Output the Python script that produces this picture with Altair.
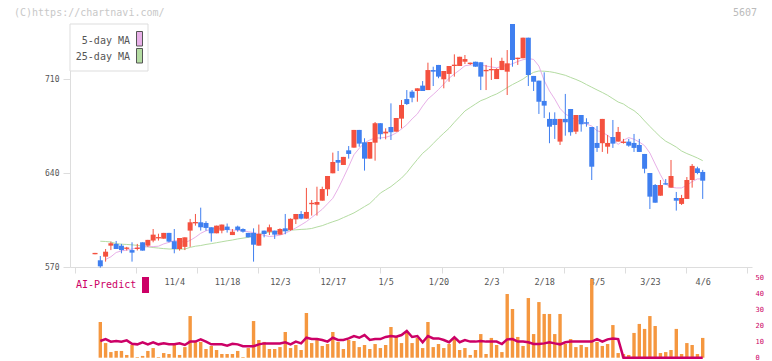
import altair as alt
import pandas as pd

# ---------------- data ----------------
label_idx = [15, 25, 35, 45, 55, 65, 75, 85, 95, 105, 115]
date_labels = ["11/4", "11/18", "12/3", "12/17", "1/5", "1/20", "2/3", "2/18", "3/5", "3/23", "4/6"]

opens = [579.5, 575.0, 577.7, 585.9, 587.2, 585.9, 583.5, 582.6, 583.4, 588.4,
         585.9, 589.7, 591.3, 591.1, 595.4, 589.2, 583.4, 585.0, 597.1, 602.5,
         603.3, 602.8, 599.6, 595.1, 597.1, 600.1, 593.8, 600.1, 598.3, 595.4,
         595.4, 585.9, 597.1, 596.2, 597.1, 594.1, 598.8, 597.6, 605.5, 609.5,
         606.0, 616.8, 616.4, 619.4, 627.9, 639.8, 649.7, 646.0, 656.9, 658.9,
         672.1, 662.9, 650.7, 662.6, 677.1, 669.5, 674.3, 670.8, 680.5, 695.1,
         700.6, 701.1, 705.1, 701.8, 716.7, 720.5, 709.8, 713.8, 719.7, 719.7,
         722.9, 721.2, 722.9, 722.5, 715.8, 716.5, 710.0, 716.7, 715.5, 751.0,
         724.9, 725.5, 740.8, 712.3, 708.8, 693.7, 680.3, 680.3, 663.4, 680.3,
         687.7, 670.8, 683.2, 677.8, 674.3, 662.4, 662.2, 659.6, 666.8, 663.4,
         662.4, 663.4, 662.4, 660.9, 654.2, 640.0, 631.1, 623.1, 632.4, 629.1,
         621.4, 617.0, 620.7, 634.8, 643.5, 640.8]
highs = [580.5, 578.2, 583.4, 588.9, 589.4, 587.2, 585.0, 588.4, 587.2, 588.4,
         590.2, 598.3, 594.8, 595.4, 595.4, 598.3, 591.6, 592.1, 605.8, 609.5,
         614.2, 604.1, 599.6, 600.8, 601.6, 602.4, 598.3, 600.8, 598.8, 595.4,
         598.8, 601.6, 597.1, 601.6, 597.1, 598.8, 609.5, 606.2, 609.5, 611.7,
         628.9, 619.9, 629.8, 629.8, 637.8, 655.2, 656.4, 652.0, 660.1, 672.1,
         672.1, 665.9, 663.1, 678.0, 677.1, 673.3, 691.9, 681.0, 694.4, 701.8,
         701.8, 703.1, 708.5, 722.2, 719.2, 720.5, 716.0, 719.7, 728.4, 726.6,
         727.9, 722.2, 722.9, 722.5, 720.5, 725.9, 718.0, 725.9, 731.6, 751.0,
         725.9, 740.8, 740.8, 712.3, 708.8, 715.0, 685.2, 685.2, 680.3, 698.9,
         687.7, 683.2, 683.2, 680.8, 674.3, 675.0, 680.3, 668.3, 679.5, 674.3,
         665.4, 665.4, 669.1, 665.4, 654.2, 640.0, 631.8, 634.8, 635.5, 649.7,
         625.9, 623.7, 637.0, 646.7, 644.7, 642.3]
lows = [579.5, 569.5, 574.0, 582.6, 583.4, 580.2, 582.3, 574.0, 582.3, 582.2,
        585.0, 588.4, 589.7, 591.1, 588.4, 580.2, 582.2, 582.6, 585.0, 600.8,
        597.1, 597.1, 588.9, 595.1, 595.1, 595.6, 593.8, 596.3, 595.6, 592.1,
        574.0, 585.9, 592.1, 593.8, 590.9, 594.1, 594.4, 597.0, 602.0, 605.5,
        606.0, 608.3, 608.3, 619.4, 623.0, 639.8, 641.5, 646.0, 650.7, 658.9,
        659.6, 641.8, 650.7, 649.2, 665.1, 665.1, 664.6, 670.8, 673.3, 690.7,
        692.7, 693.1, 701.1, 701.8, 704.8, 710.6, 703.1, 708.0, 711.8, 719.7,
        721.2, 720.5, 719.2, 701.8, 701.8, 709.3, 710.0, 716.7, 698.1, 719.2,
        720.5, 725.5, 704.8, 701.1, 684.0, 681.0, 662.2, 665.4, 660.9, 667.8,
        667.8, 669.0, 670.8, 674.5, 634.8, 655.7, 655.7, 654.4, 658.7, 663.4,
        661.9, 659.6, 655.7, 655.7, 639.8, 613.2, 617.9, 623.1, 631.4, 629.1,
        612.0, 616.2, 620.7, 629.1, 639.1, 620.7]
closes = [580.5, 570.5, 581.4, 587.7, 583.4, 582.6, 584.5, 580.7, 584.4, 582.2,
          590.2, 594.1, 592.3, 595.4, 588.9, 583.4, 591.6, 592.1, 603.3, 603.5,
          599.6, 599.1, 595.1, 600.8, 601.6, 597.6, 596.3, 597.6, 596.3, 592.1,
          586.6, 594.6, 594.6, 599.6, 594.1, 598.3, 596.6, 605.9, 609.5, 606.0,
          611.0, 617.8, 618.4, 628.1, 637.8, 648.2, 647.7, 652.0, 654.2, 672.1,
          661.9, 650.7, 663.1, 677.1, 668.9, 670.8, 670.4, 681.0, 690.7, 691.4,
          696.1, 703.1, 701.1, 716.7, 715.5, 711.8, 716.0, 719.7, 720.7, 726.6,
          724.9, 722.2, 719.2, 711.8, 716.8, 717.5, 717.5, 723.5, 721.7, 724.2,
          725.9, 740.8, 713.0, 708.0, 693.1, 690.2, 674.5, 675.8, 680.3, 677.8,
          670.4, 683.2, 676.3, 676.8, 644.7, 658.7, 680.3, 662.4, 661.9, 670.6,
          663.4, 660.4, 658.7, 655.7, 643.2, 622.4, 617.9, 631.1, 631.4, 637.8,
          619.4, 621.4, 634.8, 645.3, 640.0, 634.3]

ma5 = [None, None,
       575.6, 577.6, 580.8, 582.0, 582.6, 583.4, 584.2, 584.7, 585.2, 585.2,
       585.5, 587.2, 588.4, 589.6, 589.4, 588.2, 589.8, 592.2, 595.1, 597.0,
       598.1, 599.1, 598.4, 597.9, 597.5, 597.3, 597.0, 596.3, 595.6, 594.7,
       593.6, 592.7, 593.1, 593.7, 595.1, 597.1, 599.1, 601.4, 603.8, 606.9,
       609.9, 613.0, 617.1, 621.2, 628.3, 636.4, 644.8, 653.6, 658.4, 662.5,
       664.6, 666.1, 666.1, 666.6, 667.8, 669.9, 672.8, 676.0, 680.3, 684.0,
       689.9, 695.1, 698.5, 702.2, 706.3, 710.6, 713.8, 716.7, 719.9, 720.5,
       720.5, 720.5, 719.7, 719.0, 718.4, 719.4, 720.2, 721.4, 723.1, 724.4,
       725.3, 724.6, 719.7, 708.9, 701.1, 695.1, 688.1, 684.0, 681.7, 679.9,
       677.9, 676.5, 675.0, 671.5, 670.3, 668.1, 665.0, 661.3, 664.4, 666.4,
       665.2, 663.1, 660.4, 654.9, 646.7, 638.7, 631.7, 629.5, 628.9, 628.9,
       630.9, 633.6, 635.6, 635.6]
ma25 = [None,
        589.2, 589.0, 588.6, 587.4, 587.0, 586.8, 586.5, 586.1, 585.5, 585.0,
        584.5, 584.1, 583.7, 583.4, 583.4, 583.3, 583.4, 584.6, 585.5, 586.0,
        586.8, 587.4, 588.1, 588.8, 589.5, 590.1, 590.9, 591.5, 592.1, 593.3,
        594.7, 595.7, 595.9, 596.1, 596.8, 597.2, 597.4, 597.7, 598.0, 598.2,
        598.7, 599.8, 600.8, 602.3, 603.7, 605.0, 606.8, 608.5, 610.3, 612.6,
        615.0, 617.3, 621.1, 625.1, 627.5, 629.9, 633.0, 636.2, 640.3, 645.3,
        650.1, 654.7, 658.0, 662.0, 666.0, 669.7, 673.3, 677.8, 682.0, 686.2,
        688.8, 691.4, 693.9, 695.4, 697.3, 698.9, 701.1, 703.6, 705.9, 707.9,
        710.0, 712.8, 715.0, 716.0, 715.8, 715.5, 714.8, 713.8, 712.8, 711.2,
        709.7, 708.0, 705.9, 703.9, 701.9, 700.0, 697.9, 695.4, 692.9, 691.4,
        688.7, 686.5, 683.2, 678.8, 674.7, 670.7, 666.9, 663.7, 661.6, 659.3,
        656.4, 654.5, 652.9, 651.2, 649.2]

# bottom panel (index 1 .. 115)
vol = [22.2, 9.1, 3.5, 4.2, 4.2, 1.7, 7.9, 0.4, 1.1, 4.2,
       6.0, 0.4, 2.9, 2.3, 7.9, 1.7, 6.6, 25.9, 9.8, 9.8,
       5.4, 7.3, 4.8, 2.3, 2.3, 2.3, 4.2, 0.4, 6.0, 22.8,
       11.0, 9.8, 5.4, 5.4, 6.6, 16.0, 6.0, 7.9, 4.8, 27.8,
       9.1, 11.0, 7.3, 8.5, 16.0, 9.8, 5.4, 11.0, 10.4, 6.6,
       7.9, 5.4, 8.5, 6.0, 7.9, 19.1, 12.9, 9.1, 15.4, 9.1,
       12.3, 6.0, 22.2, 6.6, 8.5, 6.0, 8.5, 11.6, 4.8, 6.0,
       1.7, 4.8, 14.7, 2.3, 12.3, 7.9, 3.5, 39.6, 30.3, 12.9,
       7.3, 37.1, 14.7, 34.6, 27.2, 27.2, 14.7, 27.2, 8.5, 11.6,
       6.6, 7.9, 6.6, 48.9, 9.8, 7.3, 8.5, 20.3, 2.9, 2.3,
       1.7, 15.4, 21.0, 17.9, 25.9, 19.7, 2.9, 3.5, 4.8, 17.9,
       2.3, 9.1, 7.9, 2.3, 12.3]
ai = [10.4, 11.6, 10.0, 10.4, 10.0, 10.8, 8.7, 8.3, 9.6, 8.3,
      9.6, 8.3, 8.9, 8.3, 8.3, 8.9, 7.9, 10.0, 10.0, 11.4,
      10.0, 8.3, 8.3, 8.3, 7.5, 8.7, 8.3, 7.1, 7.1, 7.1,
      8.3, 8.9, 8.9, 8.9, 8.9, 9.6, 8.3, 10.0, 8.9, 12.4,
      11.6, 11.6, 11.0, 10.0, 12.4, 11.0, 11.0, 12.0, 13.5, 12.4,
      14.1, 11.0, 11.6, 11.6, 12.9, 13.5, 13.0, 14.1, 16.6, 12.9,
      13.5, 9.6, 13.5, 12.0, 12.0, 11.0, 9.6, 12.7, 9.6, 11.0,
      10.0, 10.0, 10.4, 10.0, 10.0, 10.0, 8.5, 11.4, 11.6, 10.0,
      10.0, 9.6, 8.5, 8.5, 8.9, 9.6, 8.9, 8.3, 9.6, 10.0,
      10.0, 10.0, 10.0, 10.0, 11.6, 10.0, 11.4, 12.0, 11.6, 0.0,
      0.0, 0.0, 0.0, 0.0, 0.0, 0.0, 0.0, 0.0, 0.0, 0.0,
      0.0, 0.0, 0.0, 0.0, 0.0]

price_ticks = [570, 640, 710]
ai_ticks = [0, 10, 20, 30, 40, 50]
ma_names = ["5-day MA", "25-day MA"]

# ---------------- styles ----------------
RED = "#f4513f"
BLUE = "#3f7ff0"
PINK = "#e8b0e8"
GREEN = "#b4dca2"
ORANGE = "#f5973f"
CRIMSON = "#cc0066"
MONO = "DejaVu Sans Mono"

W, H = 682, 334
PRICE_RANGE = [243, 0]
AI_RANGE = [333.7, 253.3]
X_LO, X_HI = -3.79, 123.38
grid_ticks = [X_LO + k * (X_HI - X_LO) / 11 for k in range(12)]

n = len(opens)
candles = pd.DataFrame({"idx": list(range(n)), "open": opens, "high": highs,
                        "low": lows, "close": closes})
mas = pd.DataFrame({"idx": list(range(n)), "ma5": ma5, "ma25": ma25})
bottom = pd.DataFrame({"idx": list(range(1, n)), "vol": vol, "ai": ai})

label_expr = "".join(
    f"abs(datum.value - {i}) < 0.001 ? '{lab}' : " for i, lab in zip(label_idx, date_labels)
) + "''"
label_set = "[" + ",".join(str(i) for i in label_idx) + "]"

x_axis = alt.Axis(
    values=grid_ticks + label_idx, labelExpr=label_expr,
    tickOpacity={"condition": {"test": f"indexof({label_set}, datum.value) >= 0", "value": 0}, "value": 1},
    offset=-(H - PRICE_RANGE[0]), tickSize=6, tickColor="#dddddd", domainColor="#dddddd",
    labelColor="#555555", labelFont=MONO, labelFontSize=8.5, labelPadding=4,
    labelOverlap=False, labelFlush=False, labelBound=False, grid=False, title=None,
)


def xenc():
    return alt.X("idx:Q", scale=alt.Scale(domain=[X_LO, X_HI], nice=False, zero=False), axis=x_axis)


price_scale = alt.Scale(domain=[570, 751], range=PRICE_RANGE, nice=False, zero=False)
price_axis = alt.Axis(values=price_ticks, format="d", tickSize=7, tickColor="#dddddd",
                      domainColor="#dddddd", labelColor="#555555", labelFont=MONO,
                      labelFontSize=8, labelPadding=4, grid=False, title=None)


def yprice(field):
    return alt.Y(f"{field}:Q", scale=price_scale, axis=price_axis)


updown = alt.condition("datum.close >= datum.open", alt.value(RED), alt.value(BLUE))

base_c = alt.Chart(candles)
wicks = base_c.mark_rule(strokeWidth=1).encode(x=xenc(), y=yprice("low"), y2="high", color=updown)
bodies = base_c.mark_bar(size=5).encode(x=xenc(), y=yprice("open"), y2="close", color=updown)
ma5_line = alt.Chart(mas).mark_line(color=PINK, strokeWidth=1).encode(x=xenc(), y=yprice("ma5"))
ma25_line = alt.Chart(mas).mark_line(color=GREEN, strokeWidth=1).encode(x=xenc(), y=yprice("ma25"))
price = alt.layer(ma25_line, ma5_line, wicks, bodies)

ai_scale = alt.Scale(domain=[0, 50], range=AI_RANGE, nice=False, zero=True)
ai_axis = alt.Axis(values=ai_ticks, orient="right", domain=False, ticks=False,
                   labelColor=CRIMSON, labelFont=MONO, labelFontSize=7,
                   labelPadding=3, grid=False, title=None)
base_b = alt.Chart(bottom)
vol_bars = base_b.mark_bar(size=3.4, color=ORANGE).encode(
    x=xenc(), y=alt.Y("vol:Q", scale=ai_scale, axis=ai_axis))
ai_line = base_b.mark_line(color=CRIMSON, strokeWidth=2.5).encode(
    x=xenc(), y=alt.Y("ai:Q", scale=ai_scale, axis=ai_axis))
ai_layer = alt.layer(vol_bars, ai_line)


def one(text):
    return alt.Chart(pd.DataFrame({"t": [text]}))


# legend box for the moving averages
leg_box = one("").mark_rect(fill="white", stroke="#dddddd", strokeWidth=1).encode(
    x=alt.value(0), x2=alt.value(78), y=alt.value(0), y2=alt.value(47))
leg_t1 = one(ma_names[0]).mark_text(align="right", baseline="middle", font=MONO, fontSize=10,
                                    color="#555555").encode(text="t", x=alt.value(60), y=alt.value(16.5))
leg_t2 = one(ma_names[1]).mark_text(align="right", baseline="middle", font=MONO, fontSize=10,
                                    color="#555555").encode(text="t", x=alt.value(60), y=alt.value(33))
leg_s1 = one("").mark_rect(fill=PINK, stroke="#555555", strokeWidth=1).encode(
    x=alt.value(66.5), x2=alt.value(72.5), y=alt.value(7.5), y2=alt.value(22))
leg_s2 = one("").mark_rect(fill=GREEN, stroke="#555555", strokeWidth=1).encode(
    x=alt.value(66.5), x2=alt.value(72.5), y=alt.value(24.5), y2=alt.value(39))

# AI-Predict legend
ai_t = one("AI-Predict").mark_text(align="left", baseline="middle", font=MONO, fontSize=10,
                                  color=CRIMSON).encode(text="t", x=alt.value(6), y=alt.value(261))
ai_s = one("").mark_rect(fill=CRIMSON).encode(
    x=alt.value(72), x2=alt.value(79), y=alt.value(253), y2=alt.value(269))

# header texts
hdr_l = one("(C)https://chartnavi.com/").mark_text(align="left", baseline="middle", font=MONO,
                                                  fontSize=10, color="#c8c8c8").encode(
    text="t", x=alt.value(-56), y=alt.value(-11.5))
hdr_r = one("5607").mark_text(align="right", baseline="middle", font=MONO, fontSize=10,
                              color="#bbbbbb").encode(text="t", x=alt.value(687), y=alt.value(-11.5))

chart = alt.layer(
    price, ai_layer, leg_box, leg_t1, leg_t2, leg_s1, leg_s2, ai_t, ai_s, hdr_l, hdr_r
).resolve_scale(y="independent").properties(
    width=W, height=H,
    autosize=alt.AutoSizeParams(type="none"),
    padding={"left": 62, "top": 16, "right": 12, "bottom": 3},
).configure_view(stroke=None)

chart.save("out.html", embed_options={"renderer": "svg", "actions": False})
